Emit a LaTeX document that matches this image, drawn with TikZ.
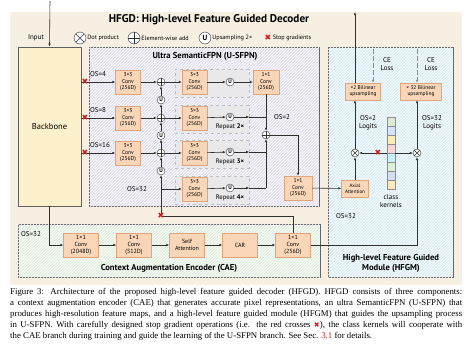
\documentclass[tikz,border=0pt]{standalone}
\usepackage{fontspec}
\setmainfont{Liberation Serif}
\setsansfont{PT Sans}
\newfontfamily\symfont{DejaVu Sans}
\usepackage{xcolor}
\usetikzlibrary{arrows.meta,patterns}

\definecolor{bgbeige}{HTML}{F7F0E2}
\definecolor{bbfill}{HTML}{FCF1CC}
\definecolor{usfpnfill}{HTML}{E4E1F1}
\definecolor{hfgmfill}{HTML}{DCEEF6}
\definecolor{caefill}{HTML}{E2F0DF}
\definecolor{convfill}{HTML}{F9D6B8}
\definecolor{convdraw}{HTML}{E2A47C}
\definecolor{rptfill}{HTML}{E9E9EC}
\definecolor{framegray}{HTML}{606060}
\definecolor{linegray}{HTML}{303030}
\definecolor{stopred}{HTML}{CC1F24}
\definecolor{kA}{HTML}{DDEBD5}
\definecolor{kB}{HTML}{D7E3F6}
\definecolor{kC}{HTML}{FBEBB5}
\definecolor{kD}{HTML}{F8D9D5}
\definecolor{kE}{HTML}{C9F0F5}
\definecolor{kF}{HTML}{DCEFD9}
\definecolor{kG}{HTML}{D6DDF0}
\definecolor{kH}{HTML}{FBE9C0}

\tikzset{
  region/.style={draw=framegray, line width=0.8pt, postaction={pattern=north east lines, pattern color=white}},
  conv/.style={draw=convdraw, fill=convfill, inner sep=0pt, align=center, minimum width=25pt, minimum height=24pt, font=\sffamily\fontsize{5.6}{6.6}\selectfont},
  caebox/.style={conv, minimum width=35pt, font=\sffamily\fontsize{6}{7}\selectfont},
  hbox/.style={conv, minimum height=17pt, font=\sffamily\fontsize{5.4}{6.2}\selectfont},
  rpt/.style={draw=black!25, dashed, fill=rptfill, minimum width=74pt, minimum height=28pt, inner sep=0pt},
  rptlabel/.style={font=\sffamily\fontsize{6.6}{7.5}\selectfont, inner sep=0pt},
  lbl/.style={font=\sffamily\fontsize{7}{8}\selectfont, inner sep=0pt, align=center},
  legend/.style={font=\sffamily\fontsize{6.2}{7}\selectfont, inner sep=1pt},
  rtitle/.style={font=\sffamily\bfseries\fontsize{8.6}{10}\selectfont, inner sep=0pt, align=center},
  oplus/.style={circle, draw=linegray, fill=white, minimum size=8pt, inner sep=0pt,
    path picture={\draw[linegray] (path picture bounding box.north) -- (path picture bounding box.south)
      (path picture bounding box.west) -- (path picture bounding box.east);}},
  otimes/.style={circle, draw=linegray, fill=white, minimum size=8pt, inner sep=0pt,
    path picture={\draw[linegray] (path picture bounding box.north west) -- (path picture bounding box.south east)
      (path picture bounding box.south west) -- (path picture bounding box.north east);}},
  upc/.style={circle, draw=linegray, fill=white, minimum size=8pt, inner sep=0pt, font=\sffamily\bfseries\fontsize{5.5}{5.5}\selectfont},
  stopg/.style={text=stopred, inner sep=0pt, font=\symfont\fontsize{8}{8}\selectfont},
  arr/.style={draw=linegray, line width=0.6pt, -{Latex[length=3pt,width=2.6pt]}},
  ln/.style={draw=linegray, line width=0.6pt}
}

\begin{document}
\begin{tikzpicture}[x=1pt, y=-1pt, font=\sffamily]
    \useasboundingbox (0,0) rectangle (474,348);
    \fill[bgbeige] (10,12) rectangle (462,285);

    % title and legend
    \node[font=\sffamily\bfseries\fontsize{11.2}{13}\selectfont] (title) at (209,20) {HFGD: High-level Feature Guided Decoder};
    \node[otimes, minimum size=12pt] (lgdot) at (80,38) {};
    \node[legend, anchor=west] (lgdottxt) at (lgdot.east) {Dot product};
    \node[oplus, minimum size=12pt] (lgadd) at (134,38) {};
    \node[legend, anchor=west] (lgaddtxt) at (lgadd.east) {Element-wise add};
    \node[upc, minimum size=12pt, font=\sffamily\bfseries\fontsize{7.5}{7.5}\selectfont] (lgup) at (205,38) {U};
    \node[legend, anchor=west] (lguptxt) at (lgup.east) {Upsampling 2×};
    \node[stopg] (lgstop) at (268,38) {✖};
    \node[legend, anchor=west] (lgstoptxt) at (lgstop.east) {Stop gradients};

    % regions
    \draw[region, fill=usfpnfill] (89,47) rectangle (319,206);
    \node[rtitle] (usfpntitle) at (205,56) {Ultra SemanticFPN (U-SFPN)};
    \draw[region, fill=hfgmfill] (328,47) rectangle (453,277);
    \node[rtitle] (hfgmtitle) at (391,263.5) {High-level Feature Guided\\Module (HFGM)};
    \draw[region, fill=caefill] (18,224) rectangle (320,277);
    \node[rtitle] (caetitle) at (169,268) {Context Augmentation Encoder (CAE)};
    \node[draw=framegray, line width=0.8pt, fill=bbfill, minimum width=63pt, minimum height=159pt,
      font=\sffamily\fontsize{8.5}{9}\selectfont] (bb) at (49.5,126.5) {Backbone};

    \coordinate (in) at (50,1);
    \node[lbl] (intxt) at (36,38) {Input};

    % U-SFPN
    \node[rpt] (g4) at (212,83) {};
    \node[rpt] (g8) at (212,119) {};
    \node[rpt] (g16) at (212,154) {};
    \node[rpt] (g32) at (212,190) {};

    \node[conv] (ca4) at (128,82) {3×3\\Conv\\(256D)};
    \node[conv] (ca8) at (128,118) {3×3\\Conv\\(256D)};
    \node[conv] (ca16) at (128,153) {3×3\\Conv\\(256D)};

    \node[oplus] (s4) at (161,82) {};
    \node[oplus] (s8) at (161,118) {};
    \node[oplus] (s16) at (161,153) {};
    \node[upc] (u8) at (161,100) {U};
    \node[upc] (u16) at (161,135.5) {U};
    \node[upc] (u32) at (161,171) {U};

    \node[conv] (cb4) at (194.5,82) {3×3\\Conv\\(256D)};
    \node[conv] (cb8) at (194.5,118) {3×3\\Conv\\(256D)};
    \node[conv] (cb16) at (194.5,153) {3×3\\Conv\\(256D)};
    \node[conv] (cb32) at (194.5,189) {3×3\\Conv\\(256D)};

    \node[upc] (ud4) at (230,82) {U};
    \node[upc] (ud8) at (230,117) {U};
    \node[upc] (ud16) at (230,152) {U};
    \node[upc] (ud32) at (230,188) {U};
    \node[rptlabel] (rp8) at (230,127) {Repeat \textbf{2×}};
    \node[rptlabel] (rp16) at (230,162) {Repeat \textbf{3×}};
    \node[rptlabel] (rp32) at (230,198) {Repeat \textbf{4×}};

    \node[conv, minimum width=26pt] (c1x1) at (266,82) {1×1\\Conv\\(256D)};
    \node[oplus] (sum2) at (266,135) {};
    \node[conv, minimum width=28pt] (cout) at (298,188) {1×1\\Conv\\(256D)};

    \node[lbl, anchor=west] (os4) at (90,74) {OS=4};
    \node[lbl, anchor=west] (os8) at (90,110) {OS=8};
    \node[lbl, anchor=west] (os16) at (90,145) {OS=16};
    \node[lbl] (os32) at (137,189) {OS=32};
    \node[lbl] (os2) at (282,117) {OS=2};

    % CAE
    \node[caebox] (cae1) at (81,245) {1×1\\Conv\\(2048D)};
    \node[caebox] (cae2) at (134,245) {1×1\\Conv\\(512D)};
    \node[caebox] (cae3) at (187,245) {Self\\Attention};
    \node[caebox] (cae4) at (240,245) {CAR};
    \node[caebox] (cae5) at (293,245) {1×1\\Conv\\(256D)};
    \node[lbl] (caeos) at (31,234) {OS=32};

    % HFGM
    \node[hbox, minimum width=35pt] (up2) at (363,91.5) {×2 Bilinear\\upsampling};
    \node[hbox, minimum width=41pt] (up32) at (421,91.5) {× 32 Bilinear\\upsampling};
    \node[hbox, minimum width=27pt, font=\sffamily\fontsize{5}{5.8}\selectfont] (axial) at (355,188.5) {Axial\\Attention};
    \node[otimes] (dotl) at (355,153) {};
    \node[otimes] (dotr) at (417,153) {};
    \node[draw=framegray, minimum width=8pt, minimum height=72pt, inner sep=0pt] (kern) at (391,153) {};
    \foreach \c [count=\i] in {kA,kB,kC,kD,kE,kF,kG,kH}
        \draw[fill=\c, draw=black!45, line width=0.3pt] (387,108+9*\i) rectangle (395,117+9*\i);
    \coordinate (ce1) at (373,49);
    \coordinate (ce2) at (417,49);
    \coordinate (out) at (355,12);
    \node[lbl] (celoss1) at (387,64.5) {CE\\Loss};
    \node[lbl] (celoss2) at (431,64.5) {CE\\Loss};
    \node[lbl] (logit2) at (368,122.5) {OS=2\\Logits};
    \node[lbl] (logit32) at (432,122.5) {OS=32\\Logits};
    \node[lbl] (kerntxt) at (391,201.5) {class\\kernels};
    \node[lbl] (hfgmos) at (346,216) {OS=32};

    % connectors
    \draw[arr] (in) -- (bb.north);
    \draw[arr] (bb.east |- ca4) -- (ca4);
    \draw[arr] (bb.east |- ca8) -- (ca8);
    \draw[arr] (bb.east |- ca16) -- (ca16);
    \draw[arr] (ca4) -- (s4);
    \draw[arr] (ca8) -- (s8);
    \draw[arr] (ca16) -- (s16);
    \draw[arr] (s4) -- (cb4);
    \draw[arr] (s8) -- (cb8);
    \draw[arr] (s16) -- (cb16);
    \draw[arr] (s8) -- (u8);
    \draw[arr] (u8) -- (s4);
    \draw[arr] (s16) -- (u16);
    \draw[arr] (u16) -- (s8);
    \draw[arr] (u32) -- (s16);
    \coordinate (k32) at (161,216);
    \coordinate (b32) at (161,189);
    \draw[ln] (cae5.north) |- (k32);
    \draw[arr] (k32) -- (u32);
    \draw[arr] (b32) -- (cb32);
    \draw[arr] (cb4) -- (ud4);
    \draw[arr] (cb8) -- (ud8);
    \draw[arr] (cb16) -- (ud16);
    \draw[arr] (cb32) -- (ud32);
    \draw[arr] (ud4) -- (c1x1);
    \draw[arr] (ud8) -- (g8.east |- ud8);
    \draw[arr] (ud16) -- (g16.east |- ud16);
    \draw[arr] (ud32) -- (g32.east |- ud32);
    \draw[ln] (g8.east |- ud8) -- (ud8 -| sum2);
    \draw[ln] (g16.east |- ud16) -- (ud16 -| sum2);
    \draw[ln] (g32.east |- ud32) -- (ud32 -| sum2);
    \draw[arr] (c1x1) -- (sum2);
    \draw[arr] (ud32 -| sum2) -- (sum2);
    \draw[arr] (sum2) -| (cout);
    \draw[arr] (cout) -- (axial);
    \draw[arr] (bb.south) |- (cae1);
    \draw[arr] (cae1) -- (cae2);
    \draw[arr] (cae2) -- (cae3);
    \draw[arr] (cae3) -- (cae4);
    \draw[arr] (cae4) -- (cae5);
    \draw[arr] (cae5.east) -| (dotr);
    \draw[arr] (axial) -- (dotl);
    \draw[arr] (kern.west) -- (dotl);
    \draw[arr] (kern.east) -- (dotr);
    \draw[arr] (dotl) -- (dotl |- up2.south);
    \draw[arr] (dotr) -- (dotr |- up32.south);
    \draw[arr] (dotl |- up2.north) -- (out);
    \draw[arr, draw=black!45, dashed, dash pattern=on 5pt off 2pt] (ce1) -- (ce1 |- up2.north);
    \draw[arr, draw=black!45, dashed, dash pattern=on 5pt off 2pt] (ce2) -- (ce2 |- up32.north);

    % stop gradients
    \node[stopg] (st4) at (85,82) {✖};
    \node[stopg] (st8) at (85,118) {✖};
    \node[stopg] (st16) at (85,153) {✖};
    \node[stopg] (st32) at (k32) {✖};
    \node[stopg] (stk) at (378,153) {✖};

    % caption
    \node[anchor=north west, inner sep=0pt, text width=452pt, align=justify,
      font=\rmfamily\fontsize{8.8}{11}\selectfont] (caption) at (10,288) {Figure 3: Architecture of the proposed high-level feature guided decoder (HFGD). HFGD consists of three components:\linebreak
      a context augmentation encoder (CAE) that generates accurate pixel representations, an ultra SemanticFPN (U-SFPN) that\linebreak
      produces high-resolution feature maps, and a high-level feature guided module (HFGM) that guides the upsampling process\linebreak
      in U-SFPN. With carefully designed stop gradient operations (i.e. the red crosses {\color{stopred}\symfont\fontsize{7}{7}\selectfont ✖}), the class kernels will cooperate with\linebreak
      the CAE branch during training and guide the learning of the U-SFPN branch. See Sec. {\color{stopred}3.1} for details.};
\end{tikzpicture}
\end{document}
